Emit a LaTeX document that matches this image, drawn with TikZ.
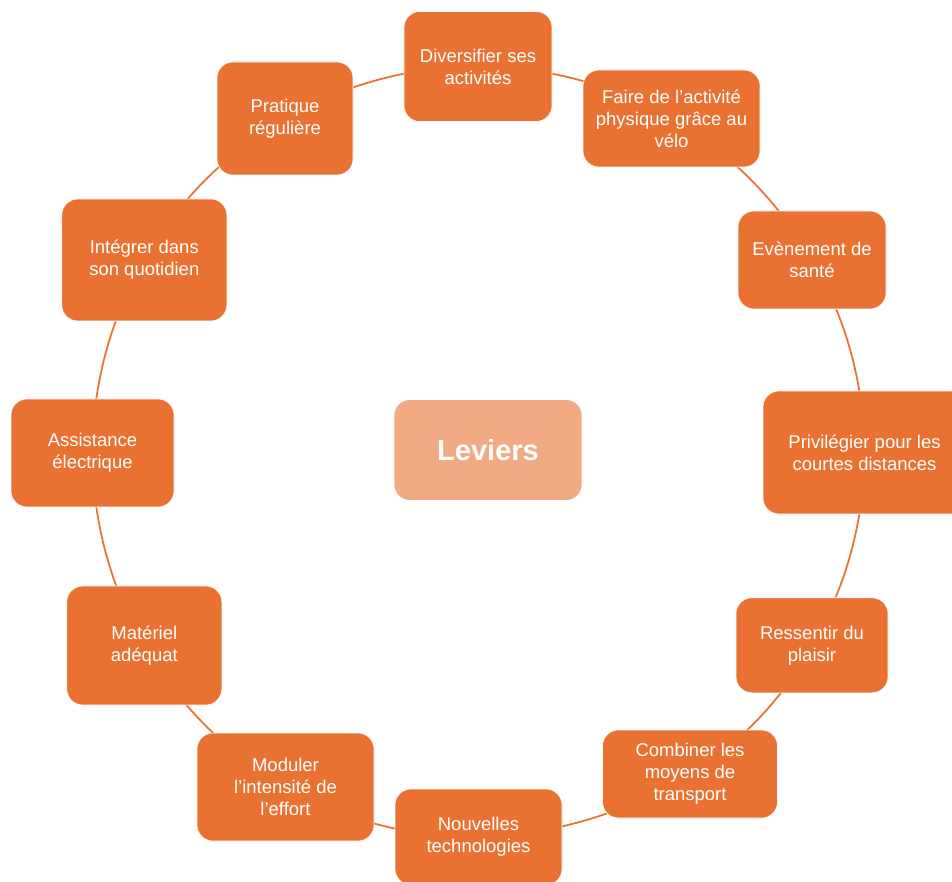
\documentclass[tikz,border=0pt]{standalone}
\usepackage{fontspec}
\setmainfont{Liberation Sans}
\usetikzlibrary{backgrounds}
\definecolor{orng}{HTML}{E97132}
\definecolor{lorng}{HTML}{F2AA84}
\begin{document}
\begin{tikzpicture}[x=1pt,y=1pt,
  box/.style={rectangle, rounded corners=16pt, fill=orng, draw=white, line width=0.6pt,
    text=white, align=center, font=\fontsize{18.5}{22}\selectfont, inner sep=0pt},
  hub/.style={rectangle, rounded corners=16pt, fill=lorng, draw=white, line width=0.6pt,
    text=white, align=center, font=\fontsize{29}{34}\selectfont\bfseries, inner sep=0pt},
  link/.style={draw=orng, line width=1.75pt},
  arcto/.style={bend left=15, looseness=0.87}]
\useasboundingbox (0,0) rectangle (952,881);
\node[box, minimum width=148pt, minimum height=110pt] (div) at (478,814.5) {Diversifier ses\\activités};
\node[box, minimum width=177pt, minimum height=97pt] (faire) at (671.5,762.5) {Faire de l’activité\\physique grâce au\\vélo};
\node[box, minimum width=148pt, minimum height=98pt] (even) at (812,621) {Evènement de\\santé};
\node[box, minimum width=203pt, minimum height=123pt] (priv) at (864.5,428.5) {Privilégier pour les\\courtes distances};
\node[box, minimum width=152pt, minimum height=95pt] (ress) at (812,235.7) {Ressentir du\\plaisir};
\node[box, minimum width=175pt, minimum height=88pt] (comb) at (690,107) {Combiner les\\moyens de\\transport};
\node[box, minimum width=167pt, minimum height=96pt] (nouv) at (478.5,44) {Nouvelles\\technologies};
\node[box, minimum width=177pt, minimum height=108pt] (mod) at (285.5,94) {Moduler\\l’intensité de\\l’effort};
\node[box, minimum width=155pt, minimum height=119pt] (mat) at (144.3,235.5) {Matériel\\adéquat};
\node[box, minimum width=163pt, minimum height=108pt] (assist) at (92.5,428) {Assistance\\électrique};
\node[box, minimum width=165pt, minimum height=122pt] (integ) at (144.3,621) {Intégrer dans\\son quotidien};
\node[box, minimum width=136pt, minimum height=113pt] (prat) at (285,762.5) {Pratique\\régulière};
\node[hub, minimum width=188pt, minimum height=101pt] (lev) at (488,431) {Leviers};
\begin{scope}[on background layer]
\fill[white] (0,0) rectangle (952,881);
\draw[link] (div.center) to[arcto] (faire.center);
\draw[link] (faire.center) to[arcto] (even.center);
\draw[link] (even.center) to[arcto] (priv.center);
\draw[link] (priv.center) to[arcto] (ress.center);
\draw[link] (ress.center) to[arcto] (comb.center);
\draw[link] (comb.center) to[arcto] (nouv.center);
\draw[link] (nouv.center) to[arcto] (mod.center);
\draw[link] (mod.center) to[arcto] (mat.center);
\draw[link] (mat.center) to[arcto] (assist.center);
\draw[link] (assist.center) to[arcto] (integ.center);
\draw[link] (integ.center) to[arcto] (prat.center);
\draw[link] (prat.center) to[arcto] (div.center);
\end{scope}
\end{tikzpicture}
\end{document}
